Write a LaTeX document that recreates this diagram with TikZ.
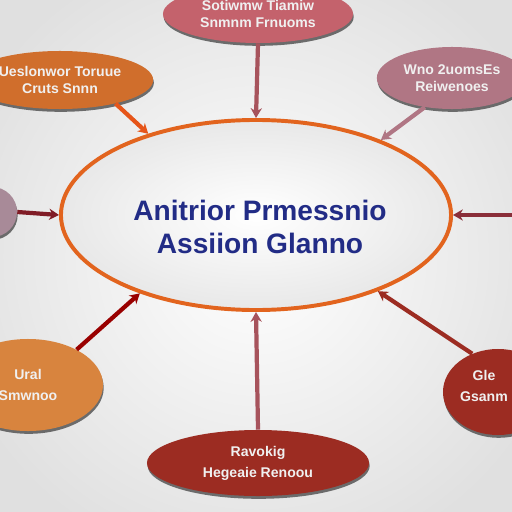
\documentclass[tikz,border=0pt]{standalone}
\usepackage{fontspec}
\setmainfont{Liberation Sans}
\usetikzlibrary{shapes.geometric,arrows.meta,shadows}
\definecolor{hubline}{HTML}{E2641E}
\definecolor{hubtext}{HTML}{222C86}
\definecolor{rose}{HTML}{C4626C}
\definecolor{rust}{HTML}{D06E2C}
\definecolor{mauve}{HTML}{B07684}
\definecolor{lilac}{HTML}{A88A98}
\definecolor{ochre}{HTML}{D8843E}
\definecolor{brick}{HTML}{9C2C22}
\definecolor{wine}{HTML}{801C26}
\tikzset{
  hub/.style={ellipse, draw=hubline, line width=2.8pt, inner color=white, outer color=black!9,
    minimum width=9.75cm, minimum height=4.75cm},
  hubtext/.style={text=hubtext, align=center, font=\bfseries\fontsize{20}{22}\selectfont},
  bubble/.style={ellipse, fill=#1, draw=none, align=center, text=black!6,
    font=\bfseries\fontsize{10}{12}\selectfont,
    drop shadow={shadow xshift=0.5pt, shadow yshift=-2pt, fill=black!70, opacity=0.8}},
  bubtext/.style={align=center, text=black!6, font=\bfseries\fontsize{10}{12}\selectfont},
  link/.style={draw=#1, line width=3pt, -{Stealth[length=7pt,width=8pt]}},
}
\begin{document}
\begin{tikzpicture}[x=0.025cm, y=-0.025cm]
    \useasboundingbox (0,0) rectangle (512,512);
    \clip (0,0) rectangle (512,512);
    \shade[inner color=white, outer color=black!12] (-60,-60) rectangle (572,572);
    \node[hub] (hub) at (256,215) {};
    \node[hubtext] (hubtitle) at (260,227) {Anitrior Prmessnio\\[1pt] Assiion Glanno};
    \node[bubble=rose, minimum width=4.75cm, minimum height=1.45cm] (top) at (258,14) {Sotiwmw Tiamiw\\ Snmnm Frnuoms};
    \node[bubble=rust, minimum width=3.9cm, minimum height=1.45cm] (topleft) at (60,80) {Ueslonwor Toruue\\ Cruts Snnn};
    \node[bubble=mauve, minimum width=3.6cm, minimum height=1.55cm] (topright) at (452,78) {Wno 2uomsEs\\ Reiwenoes};
    \node[bubble=lilac, minimum width=1.25cm, minimum height=1.25cm] (left) at (-8,212) {};
    \node[bubble=ochre, minimum width=3.75cm, minimum height=2.3cm] (botleft) at (28,385) {Ural\\[3pt] Smwnoo};
    \node[bubble=brick, minimum width=2.75cm, minimum height=2.15cm] (botright) at (498,392) {};
    \node[bubtext] (botrightlabel) at (484,386) {Gle\\[3pt] Gsanm};
    \node[bubble=brick, minimum width=5.55cm, minimum height=1.65cm] (bottom) at (258,463) {Ravokig\\[3pt] Hegeaie Renoou};
    \coordinate (right) at (520,215);
    \draw[link=rose!85!black] (top.south) -- (hub.north);
    \draw[link=hubline!85!red] (topleft.-23) -- (hub.143);
    \draw[link=mauve] (topright.227) -- (hub.31);
    \draw[link=wine] (left.east) -- (hub.west);
    \draw[link=wine!80!mauve] (right) -- (hub.east);
    \draw[link=red!60!black] (botleft.36) -- (hub.214);
    \draw[link=brick] (botright.124) -- (hub.328);
    \draw[link=rose!85!black] (bottom.north) -- (hub.south);
\end{tikzpicture}
\end{document}
